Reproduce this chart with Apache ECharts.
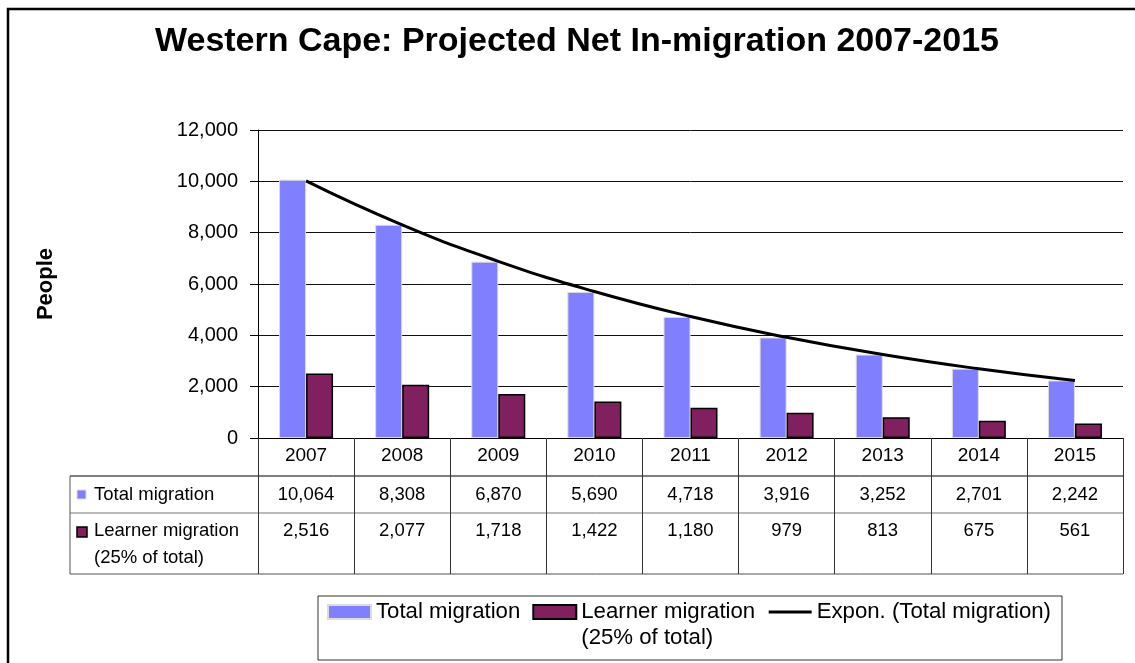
<!DOCTYPE html>
<html>
<head>
<meta charset="utf-8">
<style>
  html, body { margin: 0; padding: 0; background: #fff; }
  #chart { width: 1135px; height: 663px; }
</style>
<script src="https://cdn.jsdelivr.net/npm/echarts@6/dist/echarts.min.js"></script>
</head>
<body>
<div id="chart"></div>
<script>
// Projected net in-migration to the Western Cape, 2007-2015
const years = ['2007', '2008', '2009', '2010', '2011', '2012', '2013', '2014', '2015'];
const totalMigration = [10064, 8308, 6870, 5690, 4718, 3916, 3252, 2701, 2242];
const learnerMigration = [2516, 2077, 1718, 1422, 1180, 979, 813, 675, 561];
// Exponential trendline of the total migration series
const trendValues = [10015, 8303, 6884, 5707, 4732, 3923, 3252, 2697, 2236];
const yTicks = { min: 0, max: 12000, interval: 2000 };

const seriesNames = {
  total: 'Total migration',
  learner: 'Learner migration\n(25% of total)',
  trend: 'Expon. (Total migration)'
};
const colors = { total: '#8080FF', learner: '#80205F', trend: '#000000' };
const FONT = 'Liberation Sans, Arial, sans-serif';

const fmt = v => v.toLocaleString('en-US');

const chart = echarts.init(document.getElementById('chart'), null, { renderer: 'canvas' });

const grid = { left: 258, right: 12, top: 130, bottom: 225 };

chart.setOption({
  animation: false,
  backgroundColor: '#ffffff',
  title: {
    text: 'Western Cape: Projected Net In-migration 2007-2015',
    left: 150,
    top: 20,
    textStyle: { fontFamily: FONT, fontSize: 34, fontWeight: 'bold', color: '#000' }
  },
  grid: grid,
  legend: {
    left: 327,
    top: 573,
    padding: 0,
    itemWidth: 43,
    itemHeight: 14,
    itemGap: 12,
    textStyle: { fontFamily: FONT, fontSize: 22.2, color: '#000', lineHeight: 26 },
    // the two-line entry gets a blank first line so its first line sits beside the key
    formatter: name => (name.indexOf('\n') >= 0 ? ' \n' + name : name),
    data: [
      { name: seriesNames.total, icon: 'rect' },
      { name: seriesNames.learner, icon: 'rect' },
      { name: seriesNames.trend, itemStyle: { opacity: 0 }, lineStyle: { width: 3, color: '#000' } }
    ]
  },
  xAxis: {
    type: 'category',
    data: years,
    axisLine: { lineStyle: { color: '#000', width: 1 } },
    axisTick: { show: true, length: 136, lineStyle: { color: '#333', width: 1 } },
    axisLabel: { fontFamily: FONT, fontSize: 19, color: '#000', margin: 8 }
  },
  yAxis: {
    type: 'value',
    min: yTicks.min,
    max: yTicks.max,
    interval: yTicks.interval,
    name: 'People',
    nameLocation: 'middle',
    nameRotate: 90,
    nameGap: 201,
    nameTextStyle: { fontFamily: FONT, fontSize: 22, fontWeight: 'bold', color: '#000' },
    axisLine: { show: true, lineStyle: { color: '#000', width: 1 } },
    axisTick: { show: true, length: 8, lineStyle: { color: '#000' } },
    axisLabel: { fontFamily: FONT, fontSize: 20, color: '#000', margin: 20, formatter: v => fmt(v) },
    splitLine: { lineStyle: { color: '#111', width: 1 } }
  },
  series: [
    {
      name: seriesNames.total,
      type: 'bar',
      data: totalMigration,
      barWidth: 27,
      barGap: '0%',
      itemStyle: { color: colors.total, borderColor: '#dcdcdc', borderWidth: 1 }
    },
    {
      name: seriesNames.learner,
      type: 'bar',
      data: learnerMigration,
      barWidth: 27,
      itemStyle: { color: colors.learner, borderColor: '#000', borderWidth: 1.5 }
    },
    {
      name: seriesNames.trend,
      type: 'line',
      data: trendValues,
      symbol: 'none',
      smooth: true,
      lineStyle: { color: colors.trend, width: 3 },
      itemStyle: { color: colors.trend },
      z: 5
    }
  ]
});

// Data table under the plot: row lines, row headers and values per year
function buildTable() {
  const left = 70;
  const right = 1135 - grid.right;
  const rowTop = 476, rowMid = 513, rowBottom = 574;
  const totalY = 495, learnerY = 531;
  const g = [];

  // outer frame of the whole chart area
  g.push({ type: 'rect', shape: { x: 8, y: 9, width: 1140, height: 670 },
           style: { fill: null, stroke: '#000', lineWidth: 2.5 }, silent: true });

  const hLine = (y, color) => ({ type: 'line', shape: { x1: left, y1: y, x2: right, y2: y },
                                 style: { stroke: color, lineWidth: 1 }, silent: true });
  g.push(hLine(rowTop, '#000'));
  g.push(hLine(rowMid, '#777'));
  g.push(hLine(rowBottom, '#555'));
  g.push({ type: 'line', shape: { x1: left, y1: rowTop, x2: left, y2: rowBottom },
           style: { stroke: '#555', lineWidth: 1 }, silent: true });

  // row headers with colour keys
  g.push({ type: 'rect', shape: { x: 77, y: 490, width: 9, height: 9 },
           style: { fill: colors.total, stroke: '#dcdcdc', lineWidth: 1 } });
  g.push({ type: 'text', x: 94, y: totalY,
           style: { text: 'Total migration', font: '18.5px ' + FONT, fill: '#000',
                    textAlign: 'left', textVerticalAlign: 'middle' } });
  g.push({ type: 'rect', shape: { x: 77, y: 527, width: 10, height: 10 },
           style: { fill: colors.learner, stroke: '#000', lineWidth: 1.5 } });
  g.push({ type: 'text', x: 94, y: learnerY,
           style: { text: 'Learner migration', font: '18.5px ' + FONT, fill: '#000',
                    textAlign: 'left', textVerticalAlign: 'middle' } });
  g.push({ type: 'text', x: 94, y: 558,
           style: { text: '(25% of total)', font: '18.5px ' + FONT, fill: '#000',
                    textAlign: 'left', textVerticalAlign: 'middle' } });

  years.forEach((yr, i) => {
    const x = chart.convertToPixel({ xAxisIndex: 0 }, i);
    g.push({ type: 'text', x: x, y: totalY,
             style: { text: fmt(totalMigration[i]), font: '18.5px ' + FONT, fill: '#000',
                      textAlign: 'center', textVerticalAlign: 'middle' } });
    g.push({ type: 'text', x: x, y: learnerY,
             style: { text: fmt(learnerMigration[i]), font: '18.5px ' + FONT, fill: '#000',
                      textAlign: 'center', textVerticalAlign: 'middle' } });
  });

  // legend frame
  g.push({ type: 'rect', shape: { x: 318, y: 596, width: 744, height: 64 },
           style: { fill: null, stroke: '#333', lineWidth: 1 }, silent: true });

  chart.setOption({ graphic: g });
}
buildTable();
</script>
</body>
</html>
